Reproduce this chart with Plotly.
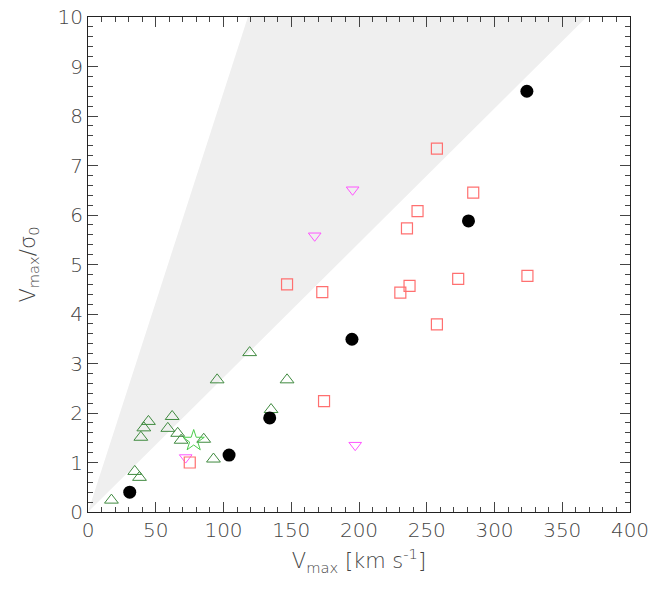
import plotly.graph_objects as go

# Data
black_x = [30.8, 104.1, 134.1, 194.8, 280.8, 323.9]
black_y = [0.40, 1.15, 1.90, 3.49, 5.88, 8.50]

green_x = [17.3, 34.5, 38.0, 39.0, 41.2, 44.6, 58.9, 62.1, 66.2, 68.7, 85.4, 92.6, 95.3, 135.1, 119.3, 146.9]
green_y = [0.24, 0.82, 0.70, 1.51, 1.70, 1.83, 1.69, 1.93, 1.59, 1.45, 1.47, 1.07, 2.67, 2.07, 3.22, 2.67]

star_x = [78.0]
star_y = [1.44]

magenta_x = [72.1, 167.3, 195.3, 197.2]
magenta_y = [1.10, 5.58, 6.51, 1.35]

red_x = [75.1, 146.9, 172.9, 174.2, 257.5, 284.3, 243.2, 235.4, 237.3, 230.5, 273.2, 257.5, 324.3]
red_y = [1.00, 4.60, 4.44, 2.24, 7.34, 6.45, 6.08, 5.73, 4.57, 4.43, 4.71, 3.79, 4.77]

# Shaded wedge boundaries
wedge_x = [0, 118, 368, 0]
wedge_y = [0, 10, 10, 0]

FONT = "DejaVu Sans, Liberation Sans, Arial"
TXT = "#444"

fig = go.Figure()
fig.add_trace(go.Scatter(x=wedge_x, y=wedge_y, fill="toself", mode="lines",
                         line=dict(width=0, color="#efefef"), fillcolor="#efefef",
                         hoverinfo="skip", showlegend=False))
fig.add_trace(go.Scatter(x=green_x, y=green_y, mode="markers",
                         marker=dict(symbol="triangle-up-open", size=12, color="#3f8a3f", line=dict(width=1)),
                         showlegend=False))
fig.add_trace(go.Scatter(x=star_x, y=star_y, mode="markers",
                         marker=dict(symbol="star-open", size=16, color="#4ccc4c", line=dict(width=1)),
                         showlegend=False))
fig.add_trace(go.Scatter(x=magenta_x, y=magenta_y, mode="markers",
                         marker=dict(symbol="triangle-down-open", size=11, color="#ff55ff", line=dict(width=1)),
                         showlegend=False))
fig.add_trace(go.Scatter(x=red_x, y=red_y, mode="markers",
                         marker=dict(symbol="square-open", size=11, color="#ff7070", line=dict(width=1.2)),
                         showlegend=False))
fig.add_trace(go.Scatter(x=black_x, y=black_y, mode="markers",
                         marker=dict(symbol="circle", size=13, color="black"),
                         showlegend=False))

axis_common = dict(
    showgrid=False, zeroline=False, showline=True, linecolor="#222", linewidth=1.2,
    mirror="ticks", ticks="inside", ticklen=10, tickcolor="#444", tickwidth=1,
    automargin=False, ticklabeloverflow="allow",
    tickfont=dict(family=FONT, size=20, color=TXT, weight=200),
)

fig.update_layout(
    width=649, height=591,
    margin=dict(l=88, r=19, t=17, b=79),
    plot_bgcolor="white", paper_bgcolor="white",
    xaxis=dict(range=[0, 400], dtick=50, tick0=0,
               minor=dict(dtick=10, ticks="inside", ticklen=5, tickcolor="#444"),
               title=dict(text="V<sub>max</sub> [km s<sup>-1</sup>]", standoff=12,
                          font=dict(family=FONT, size=21, color=TXT, weight=200)),
               **axis_common),
    yaxis=dict(range=[0, 10], dtick=1, tick0=0,
               minor=dict(dtick=0.2, ticks="inside", ticklen=5, tickcolor="#444"),
               title=dict(text="V<sub>max</sub>/σ<sub>0</sub>", standoff=16,
                          font=dict(family=FONT, size=21, color=TXT, weight=200)),
               **axis_common),
)

fig.write_html("out.html", config={"displayModeBar": False},
               post_script="document.body.style.margin='0';")
